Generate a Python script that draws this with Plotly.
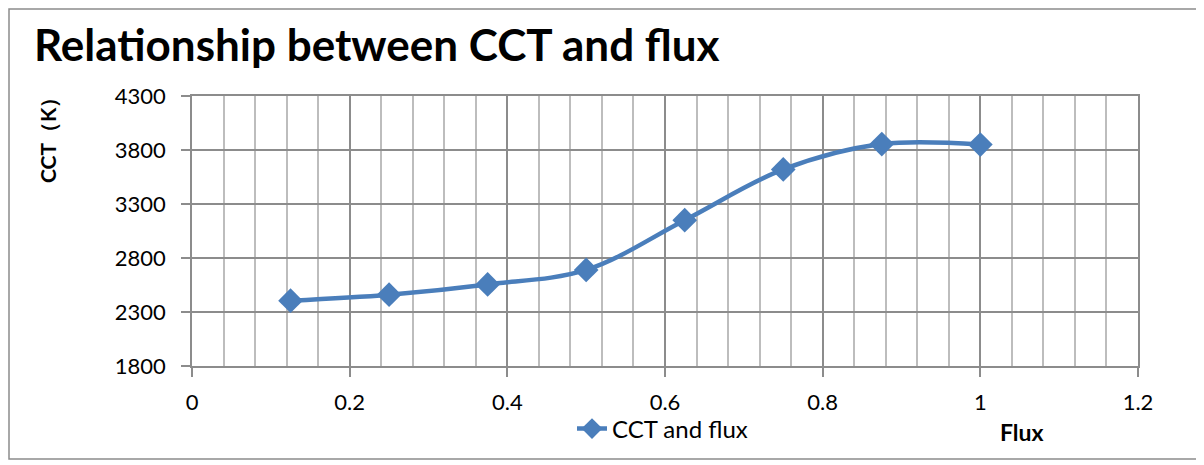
import plotly.graph_objects as go

flux = [0.125, 0.25, 0.375, 0.5, 0.625, 0.75, 0.875, 1.0]
cct = [2405, 2460, 2555, 2690, 3150, 3620, 3855, 3850]
series_name = "CCT and flux"
title_text = "Relationship between CCT and flux"
x_title = "Flux"
y_title = "CCT（K）"

OFF = 8  # page body margin
W, H = 1204 - OFF, 465 - OFF
L, R, T, B = 192 - OFF, 1138 - OFF, 96 - OFF, 366 - OFF
pw, ph = R - L, B - T

def px(x):
    return (x - OFF - L) / pw

def py(y):
    return (B - (y - OFF)) / ph

FONT = "Lato"
BLUE = "#4A7EBB"
MAJ = "#8c8c8c"
MIN = "#bdbdbd"

fig = go.Figure()
fig.add_trace(go.Scatter(
    x=flux, y=cct, name=series_name, mode="lines+markers",
    line=dict(color=BLUE, width=4.5, shape="spline", smoothing=1.0),
    marker=dict(symbol="diamond", size=19, color=BLUE),
))

fig.update_layout(
    width=W, height=H,
    margin=dict(l=L, r=W - R, t=T, b=H - B),
    paper_bgcolor="white", plot_bgcolor="white",
    font=dict(family=FONT, size=22, color="#000"),
    showlegend=True,
    legend=dict(x=px(572), y=py(429), xanchor="left", yanchor="middle",
                font=dict(family=FONT, size=24, color="#000"),
                bgcolor="rgba(0,0,0,0)"),
    xaxis=dict(range=[0, 1.2], dtick=0.2, tick0=0, showgrid=True,
               gridcolor=MAJ, gridwidth=1.5,
               minor=dict(dtick=0.04, tick0=0, showgrid=True, gridcolor=MIN, gridwidth=1.5, ticks=""),
               ticks="outside", ticklen=9, tickcolor=MAJ, tickwidth=1.5,
               showline=True, linecolor=MAJ, linewidth=1.5, mirror=True,
               zeroline=False, tickfont=dict(size=22), ticklabelstandoff=7),
    yaxis=dict(range=[1800, 4300], dtick=500, tick0=1800, showgrid=True,
               gridcolor=MAJ, gridwidth=1.5,
               ticks="outside", ticklen=9, tickcolor=MAJ, tickwidth=1.5,
               showline=True, linecolor=MAJ, linewidth=1.5, mirror=True,
               zeroline=False, tickfont=dict(size=22), ticklabelstandoff=11),
)

fig.add_annotation(text="<b>%s</b>" % title_text, xref="paper", yref="paper",
                   x=px(32), y=py(44), xanchor="left", yanchor="middle",
                   showarrow=False, font=dict(family=FONT, size=44, color="#000"))
fig.add_annotation(text="<b>%s</b>" % y_title, xref="paper", yref="paper",
                   x=px(47), y=py(135), xanchor="center", yanchor="middle", textangle=-90,
                   showarrow=False, font=dict(family=FONT, size=21, color="#000"))
fig.add_annotation(text="<b>%s</b>" % x_title, xref="paper", yref="paper",
                   x=px(1022), y=py(432), xanchor="center", yanchor="middle",
                   showarrow=False, font=dict(family=FONT, size=23, color="#000"))

# chart-area border (inset 1px from canvas edge, since the page margin hides page x<8)
fig.add_shape(type="rect", xref="paper", yref="paper",
              x0=px(OFF + 1), x1=px(1197), y0=py(459), y1=py(OFF + 1),
              line=dict(color=MAJ, width=1.5), layer="below")

fig.write_html("out.html")
